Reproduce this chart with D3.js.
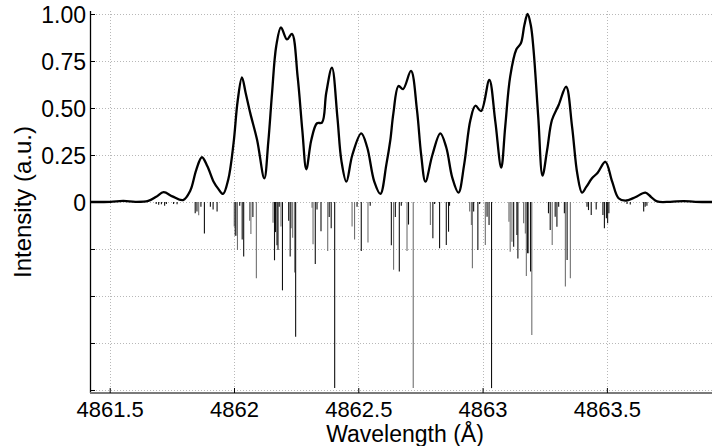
<!DOCTYPE html>
<html><head><meta charset="utf-8">
<script src="https://cdn.jsdelivr.net/npm/d3@7"></script>
<style>
body{margin:0;background:#fff;}
text{font-family:"Liberation Sans",Arial,Helvetica,sans-serif;fill:#000;}
</style></head>
<body><svg id="c" width="712" height="446"></svg>
<script>
// x ticks and y ticks
const xTicks = [4861.5, 4862, 4862.5, 4863, 4863.5];
const xTickLabels = ["4861.5", "4862", "4862.5", "4863", "4863.5"];
const yTicks = [1, 0.75, 0.5, 0.25, 0, -0.25, -0.5, -0.75, -1];
const yTickLabels = ["1.00", "0.75", "0.50", "0.25", "0", "", "", "", ""];

// convolved spectrum
const curveWl = [4861.421,4861.502,4861.555,4861.603,4861.655,4861.687,4861.717,4861.752,4861.795,4861.824,4861.848,4861.871,4861.893,4861.918,4861.937,4861.956,4861.977,4861.998,4862.015,4862.032,4862.047,4862.066,4862.093,4862.122,4862.138,4862.153,4862.170,4862.189,4862.213,4862.233,4862.256,4862.275,4862.291,4862.311,4862.334,4862.354,4862.371,4862.394,4862.416,4862.432,4862.452,4862.476,4862.512,4862.536,4862.564,4862.589,4862.613,4862.629,4862.641,4862.662,4862.680,4862.712,4862.736,4862.753,4862.770,4862.798,4862.830,4862.854,4862.878,4862.903,4862.926,4862.951,4862.971,4862.994,4863.027,4863.051,4863.075,4863.091,4863.111,4863.136,4863.154,4863.168,4863.181,4863.194,4863.205,4863.224,4863.241,4863.260,4863.279,4863.306,4863.336,4863.360,4863.381,4863.400,4863.417,4863.440,4863.463,4863.494,4863.521,4863.547,4863.574,4863.614,4863.655,4863.679,4863.702,4863.755,4863.809,4863.856,4863.955];
const curveI = [0,0.001,0.006,0.001,0.006,0.028,0.052,0.03,0.01,0.06,0.17,0.238,0.19,0.108,0.07,0.043,0.12,0.31,0.54,0.663,0.58,0.47,0.33,0.126,0.32,0.578,0.83,0.929,0.865,0.894,0.667,0.38,0.174,0.33,0.419,0.422,0.58,0.715,0.45,0.22,0.108,0.25,0.365,0.29,0.11,0.043,0.2,0.33,0.47,0.617,0.6,0.697,0.49,0.25,0.108,0.25,0.365,0.29,0.13,0.05,0.2,0.436,0.512,0.484,0.649,0.43,0.183,0.4,0.667,0.812,0.844,0.94,1.0,0.94,0.809,0.45,0.14,0.28,0.436,0.516,0.613,0.4,0.15,0.05,0.08,0.126,0.156,0.214,0.11,0.02,0.007,0.025,0.05,0.025,0.003,0.001,0.005,0.001,0];

// stick spectrum, component A (gray)
const grayWl = [4861.858,4862.001,4862.009,4862.014,4862.063,4862.068,4862.090,4862.157,4862.189,4862.230,4862.236,4862.244,4862.314,4862.318,4862.377,4862.475,4862.485,4862.539,4862.642,4862.696,4862.721,4862.790,4862.948,4862.955,4862.959,4863.011,4863.106,4863.111,4863.118,4863.165,4863.172,4863.176,4863.185,4863.198,4863.280,4863.333,4863.353];
const grayI = [0.07,0.13,0.18,0.255,0.10,0.17,0.405,0.11,0.13,0.14,0.19,0.375,0.03,0.225,0.26,0.13,0.20,0.215,0.36,0.26,0.99,0.122,0.051,0.122,0.353,0.229,0.105,0.264,0.211,0.113,0.167,0.394,0.273,0.707,0.229,0.45,0.406];

// stick spectrum, component B (dark)
const darkWl = [4861.687,4861.697,4861.708,4861.721,4861.728,4861.757,4861.771,4861.844,4861.851,4861.867,4861.881,4861.905,4861.916,4861.932,4862.005,4862.023,4862.033,4862.039,4862.076,4862.163,4862.167,4862.173,4862.177,4862.182,4862.195,4862.220,4862.226,4862.248,4862.327,4862.334,4862.350,4862.383,4862.391,4862.405,4862.495,4862.512,4862.548,4862.633,4862.649,4862.665,4862.673,4862.702,4862.800,4862.807,4862.827,4862.854,4862.863,4862.867,4862.964,4862.981,4862.988,4863.018,4863.026,4863.036,4863.125,4863.138,4863.142,4863.181,4863.193,4863.265,4863.272,4863.292,4863.299,4863.306,4863.329,4863.340,4863.420,4863.426,4863.437,4863.457,4863.484,4863.490,4863.498,4863.503,4863.508,4863.581,4863.594,4863.648,4863.654,4863.661];
const darkI = [0.01,0.015,0.012,0.02,0.01,0.01,0.012,0.06,0.05,0.025,0.167,0.025,0.04,0.05,0.18,0.02,0.20,0.29,0.08,0.31,0.16,0.23,0.255,0.025,0.47,0.10,0.29,0.717,0.33,0.04,0.155,0.08,0.14,0.99,0.025,0.26,0.02,0.23,0.08,0.37,0.02,0.12,0.193,0.01,0.246,0.229,0.158,0.02,0.05,0.255,0.01,0.078,0.122,0.99,0.238,0.176,0.30,0.273,0.37,0.06,0.149,0.078,0.131,0.025,0.06,0.309,0.025,0.043,0.069,0.04,0.069,0.14,0.087,0.113,0.06,0.01,0.013,0.051,0.025,0.02];

const svg = d3.select("#c");
const L = 90, R = 720, T = 11, B = 393;
const x = d3.scaleLinear().domain([4861.4208, 4863.955]).range([L, R]);
const y = d3.scaleLinear().domain([-1.016, 1.016]).range([B, T]);

// grid
const grid = svg.append("g").attr("stroke", "#b8b8b8").attr("stroke-width", 1).attr("stroke-dasharray", "1,2");
grid.selectAll("line.h").data(yTicks).join("line").attr("class", "h")
  .attr("x1", L).attr("x2", R).attr("y1", d => Math.round(y(d)) + 0.5).attr("y2", d => Math.round(y(d)) + 0.5);
grid.selectAll("line.v").data(xTicks).join("line").attr("class", "v")
  .attr("y1", T).attr("y2", B).attr("x1", d => Math.round(x(d)) + 0.5).attr("x2", d => Math.round(x(d)) + 0.5);

// sticks
function sticks(wl, inten, color) {
  svg.append("g").selectAll("line").data(wl.map((w, i) => [w, inten[i]])).join("line")
    .attr("x1", d => x(d[0])).attr("x2", d => x(d[0]))
    .attr("y1", y(0)).attr("y2", d => y(-d[1]))
    .attr("stroke", color).attr("stroke-width", 1.1);
}
sticks(grayWl, grayI, "#707070");
sticks(darkWl, darkI, "#111");

// curve
const line = d3.line().x(d => x(d[0])).y(d => y(d[1])).curve(d3.curveCatmullRom.alpha(0.5));
svg.append("path").datum(curveWl.map((w, i) => [w, curveI[i]]))
  .attr("d", line).attr("fill", "none").attr("stroke", "#000").attr("stroke-width", 2.3)
  .attr("stroke-linejoin", "round");

// axes
const yAxis = d3.axisRight(y).tickValues(yTicks).tickSize(5).tickFormat((d, i) => yTickLabels[i]);
const ya = svg.append("g").attr("transform", `translate(${L},0)`).call(yAxis);
ya.select(".domain").attr("stroke", "#000").attr("stroke-width", 1.3).attr("d", `M0.5,${T}V${B}`);
ya.selectAll(".tick line").attr("stroke", "#000");
ya.selectAll(".tick text").attr("x", -4).attr("text-anchor", "end").attr("dy", "0.36em")
  .attr("font-size", 23).style("font-family", "Liberation Sans, Arial, sans-serif");

const xAxis = d3.axisTop(x).tickValues(xTicks).tickSize(5).tickFormat((d, i) => xTickLabels[i]);
const xa = svg.append("g").attr("transform", `translate(0,${B})`).call(xAxis);
xa.select(".domain").attr("stroke", "#7a7a7a").attr("stroke-width", 2).attr("d", `M${L},0H${R}`);
xa.selectAll(".tick line").attr("stroke", "#000");
xa.selectAll(".tick text").attr("y", 24).attr("dy", 0).attr("font-size", 22)
  .style("font-family", "Liberation Sans, Arial, sans-serif");

// axis titles
svg.append("text").attr("x", 405).attr("y", 442).attr("text-anchor", "middle")
  .attr("font-size", 23).text("Wavelength (Å)");
svg.append("text").attr("transform", `translate(31,${(T + B) / 2}) rotate(-90)`)
  .attr("text-anchor", "middle").attr("font-size", 24).text("Intensity (a.u.)");
</script></body></html>
